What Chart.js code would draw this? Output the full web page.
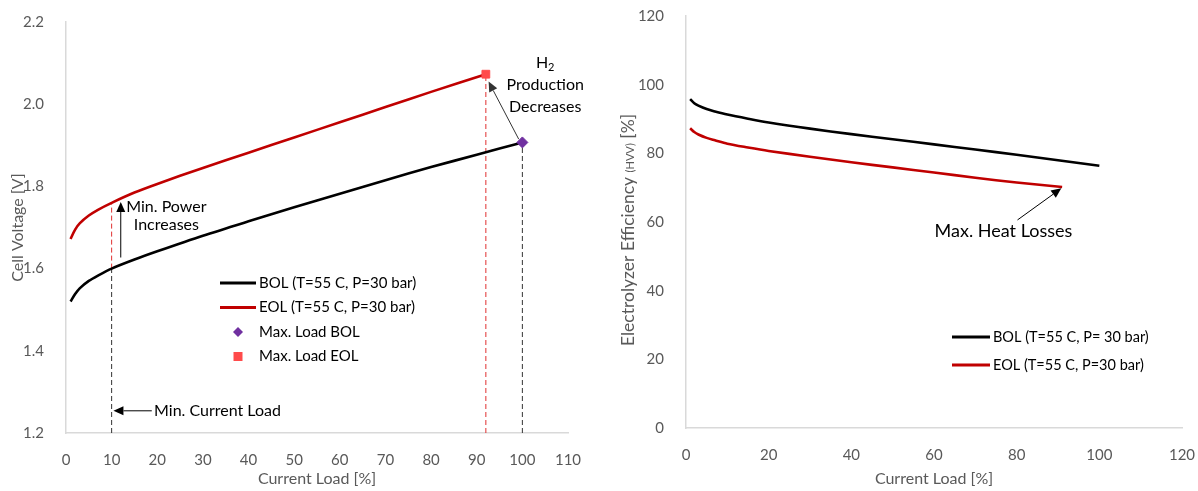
<!DOCTYPE html>
<html lang="en">
<head>
<meta charset="UTF-8">
<title>Electrolyzer BOL / EOL</title>
<script src="https://cdn.jsdelivr.net/npm/chart.js"></script>
<style>
  body { margin: 0; background: #fff; }
  .wrap { position: relative; width: 1198px; height: 491px; }
  .panel { position: absolute; top: 0; height: 491px; }
  #left { left: 0; width: 600px; }
  #right { left: 600px; width: 598px; }
</style>
</head>
<body>
<div class="wrap">
  <div class="panel" id="left"><canvas id="voltChart"></canvas></div>
  <div class="panel" id="right"><canvas id="effChart"></canvas></div>
</div>
<script>
// ---- left panel: cell voltage vs current load ----
const bolLoad = [1, 2, 3, 5, 7, 10, 15, 20, 30, 40, 50, 60, 70, 80, 90, 100];
const bolVolt = [1.52, 1.538, 1.552, 1.57, 1.583, 1.60, 1.622, 1.642, 1.68, 1.715, 1.749, 1.782, 1.815, 1.847, 1.877, 1.907];
const eolLoad = [1, 2, 3, 5, 7, 10, 15, 20, 30, 40, 50, 60, 70, 80, 92];
const eolVolt = [1.672, 1.695, 1.71, 1.729, 1.743, 1.76, 1.785, 1.806, 1.845, 1.882, 1.919, 1.956, 1.993, 2.03, 2.073];
const maxLoadBOL = [100, 1.907];
const maxLoadEOL = [92, 2.073];
const minLoad = 10;

// ---- right panel: efficiency vs current load ----
const effBolLoad = [1, 2, 3, 5, 7, 10, 15, 20, 30, 40, 50, 60, 70, 80, 90, 100];
const effBol = [95.8, 94.6, 93.9, 92.9, 92.2, 91.3, 90.1, 89.0, 87.2, 85.6, 84.1, 82.6, 81.1, 79.6, 78.0, 76.4];
const effEolLoad = [1, 2, 3, 5, 7, 10, 15, 20, 30, 40, 50, 60, 70, 80, 91];
const effEol = [87.3, 86.2, 85.5, 84.5, 83.8, 82.8, 81.7, 80.7, 79.0, 77.4, 75.9, 74.4, 72.9, 71.5, 70.2];

const FONT = 'Lato, "Open Sans", sans-serif';
const GREY = '#595959';
const AXIS = '#d9d9d9';

const xy = (xs, ys) => xs.map((x, i) => ({ x: x, y: ys[i] }));

// arrows, free text, legend and the composed y title are drawn here
const notesPlugin = {
  id: 'notes',
  afterDatasetsDraw(chart, args, opts) {
    const ctx = chart.ctx, sx = chart.scales.x, sy = chart.scales.y;
    ctx.save();
    (opts.arrows || []).forEach(a => {
      const x1 = sx.getPixelForValue(a.from[0]), y1 = sy.getPixelForValue(a.from[1]);
      const x2 = sx.getPixelForValue(a.to[0]), y2 = sy.getPixelForValue(a.to[1]);
      const ang = Math.atan2(y2 - y1, x2 - x1), hl = 10, hw = 4.5;
      const bx = x2 - hl * Math.cos(ang), by = y2 - hl * Math.sin(ang);
      ctx.strokeStyle = a.color; ctx.fillStyle = a.color; ctx.lineWidth = 1;
      ctx.beginPath(); ctx.moveTo(x1, y1); ctx.lineTo(bx, by); ctx.stroke();
      ctx.beginPath(); ctx.moveTo(x2, y2);
      ctx.lineTo(bx + hw * Math.sin(ang), by - hw * Math.cos(ang));
      ctx.lineTo(bx - hw * Math.sin(ang), by + hw * Math.cos(ang));
      ctx.closePath(); ctx.fill();
    });
    ctx.fillStyle = '#000';
    ctx.textBaseline = 'middle';
    (opts.texts || []).forEach(t => {
      const px = sx.getPixelForValue(t.at[0]), py = sy.getPixelForValue(t.at[1]);
      t.lines.forEach((line, i) => {
        const y = py + i * t.gap;
        const segs = typeof line === 'string' ? [{ t: line }] : line;
        let w = 0;
        segs.forEach(s => { ctx.font = (s.sub ? 11 : t.size) + 'px ' + FONT; w += ctx.measureText(s.t).width; });
        let x = t.align === 'left' ? px : px - w / 2;
        ctx.textAlign = 'left';
        segs.forEach(s => {
          ctx.font = (s.sub ? 11 : t.size) + 'px ' + FONT;
          ctx.fillText(s.t, x, s.sub ? y + 4 : y);
          x += ctx.measureText(s.t).width;
        });
      });
    });
    const lg = opts.legend;
    if (lg) {
      ctx.font = lg.size + 'px ' + FONT;
      ctx.textAlign = 'left';
      let row = 0;
      chart.data.datasets.forEach(ds => {
        if (!ds.label) return;
        const y = lg.y + row * lg.gap;
        if (ds.showLine !== false) {
          ctx.strokeStyle = ds.borderColor; ctx.lineWidth = 3;
          ctx.beginPath(); ctx.moveTo(lg.x, y); ctx.lineTo(lg.x + lg.w, y); ctx.stroke();
        } else {
          const cx = lg.x + lg.w / 2;
          ctx.fillStyle = ds.backgroundColor;
          ctx.beginPath();
          if (ds.pointStyle === 'rectRot') {
            ctx.moveTo(cx, y - 5); ctx.lineTo(cx + 5, y); ctx.lineTo(cx, y + 5); ctx.lineTo(cx - 5, y);
          } else {
            ctx.rect(cx - 4.5, y - 4.5, 9, 9);
          }
          ctx.closePath(); ctx.fill();
        }
        ctx.fillStyle = '#000';
        ctx.fillText(ds.label, lg.x + lg.w + 3, y);
        row++;
      });
    }
    const yt = opts.yTitle;
    if (yt) {
      const segs = yt.parts;
      let w = 0;
      segs.forEach(s => { ctx.font = s.size + 'px ' + FONT; w += ctx.measureText(s.t).width; });
      ctx.translate(yt.x, (chart.chartArea.top + chart.chartArea.bottom) / 2 + yt.shift);
      ctx.rotate(-Math.PI / 2);
      ctx.fillStyle = GREY; ctx.textAlign = 'left'; ctx.textBaseline = 'alphabetic';
      let x = -w / 2;
      segs.forEach(s => {
        ctx.font = s.size + 'px ' + FONT;
        ctx.fillText(s.t, x, 6);
        x += ctx.measureText(s.t).width;
      });
    }
    ctx.restore();
  }
};

function axes(xmax, xstep, ymin, ymax, ystep, ydec, ytitle, yw, xh) {
  return {
    x: {
      type: 'linear', min: 0, max: xmax,
      grid: { display: false },
      border: { color: AXIS, width: 1.5 },
      ticks: { stepSize: xstep, color: GREY, padding: 10, font: { family: FONT, size: 15 } },
      title: { display: true, text: 'Current Load [%]', color: GREY, font: { family: FONT, size: 16 }, padding: { top: 4, bottom: 3 } },
      afterFit: s => { s.height = xh; s.paddingLeft = 0; s.paddingRight = 0; }
    },
    y: {
      min: ymin, max: ymax,
      grid: { display: false },
      border: { color: AXIS, width: 1.5 },
      ticks: { stepSize: ystep, color: GREY, padding: 14, font: { family: FONT, size: 15 }, callback: v => v.toFixed(ydec) },
      title: { display: !!ytitle, text: ytitle, color: GREY, font: { family: FONT, size: 16 }, padding: { top: 8, bottom: 4 } },
      afterFit: s => { s.width = yw; s.paddingTop = 0; s.paddingBottom = 0; }
    }
  };
}

const guide = (x, y0, y1, color) => ({
  data: [{ x: x, y: y0 }, { x: x, y: y1 }],
  borderColor: color, borderWidth: 1, borderDash: [5, 3],
  pointRadius: 0, showLine: true, fill: false, order: 2
});

new Chart(document.getElementById('voltChart'), {
  type: 'line',
  data: {
    datasets: [
      { label: 'BOL (T=55 C, P=30 bar)', data: xy(bolLoad, bolVolt), borderColor: '#000000', borderWidth: 2.6, pointRadius: 0, tension: 0.3, order: 1 },
      { label: 'EOL (T=55 C, P=30 bar)', data: xy(eolLoad, eolVolt), borderColor: '#c00000', borderWidth: 2.6, pointRadius: 0, tension: 0.3, order: 1 },
      { label: 'Max. Load BOL', data: [{ x: maxLoadBOL[0], y: maxLoadBOL[1] }], showLine: false, pointStyle: 'rectRot', pointRadius: 5.5, backgroundColor: '#7030a0', borderColor: '#7030a0', order: 0 },
      { label: 'Max. Load EOL', data: [{ x: maxLoadEOL[0], y: maxLoadEOL[1] }], showLine: false, pointStyle: 'rect', pointRadius: 5.5, backgroundColor: '#ff4b4b', borderColor: '#ff4b4b', order: 0 },
      guide(minLoad, 1.2, bolVolt[bolLoad.indexOf(minLoad)], '#333333'),
      guide(minLoad, bolVolt[bolLoad.indexOf(minLoad)], eolVolt[eolLoad.indexOf(minLoad)], '#e03030'),
      guide(maxLoadEOL[0], 1.2, maxLoadEOL[1], '#e03030'),
      guide(maxLoadBOL[0], 1.2, maxLoadBOL[1], '#333333')
    ]
  },
  options: {
    responsive: true, maintainAspectRatio: false, animation: false,
    layout: { padding: { top: 22, right: 32, left: 0, bottom: 0 } },
    scales: axes(110, 10, 1.2, 2.2, 0.2, 1, 'Cell Voltage [V]', 66, 58),
    plugins: {
      legend: { display: false }, tooltip: { enabled: false },
      notes: {
        arrows: [
          { from: [12, 1.627], to: [12, 1.762], color: '#000' },
          { from: [18.8, 1.254], to: [10.4, 1.254], color: '#000' },
          { from: [99.2, 1.915], to: [92.6, 2.055], color: '#333' }
        ],
        texts: [
          { at: [22.0, 1.75], lines: ['Min. Power', 'Increases'], size: 16, gap: 18, align: 'center' },
          { at: [19.3, 1.254], lines: ['Min. Current Load'], size: 16, gap: 18, align: 'left' },
          { at: [105.0, 2.1], lines: [[{ t: 'H' }, { t: '2', sub: true }], 'Production', 'Decreases'], size: 16, gap: 22, align: 'center' }
        ],
        legend: { x: 220, y: 283, w: 36, gap: 24.5, size: 15 }
      }
    }
  },
  plugins: [notesPlugin]
});

new Chart(document.getElementById('effChart'), {
  type: 'line',
  data: {
    datasets: [
      { label: 'BOL (T=55 C, P= 30 bar)', data: xy(effBolLoad, effBol), borderColor: '#000000', borderWidth: 2.6, pointRadius: 0, tension: 0.3 },
      { label: 'EOL (T=55 C, P=30 bar)', data: xy(effEolLoad, effEol), borderColor: '#c00000', borderWidth: 2.6, pointRadius: 0, tension: 0.3 }
    ]
  },
  options: {
    responsive: true, maintainAspectRatio: false, animation: false,
    layout: { padding: { top: 16, right: 16, left: 0, bottom: 0 } },
    scales: axes(120, 20, 0, 120, 20, 0, '', 86, 63),
    plugins: {
      legend: { display: false }, tooltip: { enabled: false },
      notes: {
        arrows: [
          { from: [80.2, 60.6], to: [90.8, 69.8], color: '#000' }
        ],
        texts: [
          { at: [76.8, 57.4], lines: ['Max. Heat Losses'], size: 18, gap: 18, align: 'center' }
        ],
        legend: { x: 352, y: 337, w: 38, gap: 28, size: 14.5 },
        yTitle: { x: 28, shift: 8, parts: [{ t: 'Electrolyzer Efficiency ', size: 17.5 }, { t: '(HVV)', size: 11 }, { t: ' [%]', size: 17.5 }] }
      }
    }
  },
  plugins: [notesPlugin]
});
</script>
</body>
</html>
